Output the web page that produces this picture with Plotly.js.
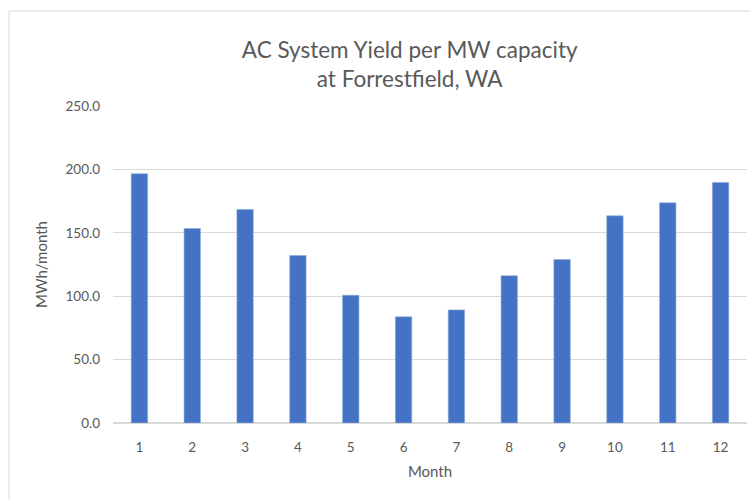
<!DOCTYPE html>
<html>
<head>
<meta charset="utf-8">
<script src="https://cdn.plot.ly/plotly-3.0.1.min.js"></script>
<style>
  html, body { margin: 0; padding: 0; background: #fff; }
  #chart { width: 750px; height: 500px; }
</style>
</head>
<body>
<div id="chart"></div>
<script>
// Monthly AC yield per MW of installed capacity
const months = ["1", "2", "3", "4", "5", "6", "7", "8", "9", "10", "11", "12"];
const yieldMWh = [196.6, 153.4, 168.4, 132.1, 100.8, 83.7, 89.2, 116.1, 128.9, 163.4, 173.7, 189.7];
const yTickVals = [0, 50, 100, 150, 200, 250];
const yTickText = ["0.0", "50.0", "100.0", "150.0", "200.0", "250.0"];

const textGray = "#595959";
const gridGray = "#d9d9d9";
const fontFam = "Lato, 'Open Sans', sans-serif";

const trace = {
  type: "bar",
  x: months,
  y: yieldMWh,
  marker: { color: "#4472C4", line: { color: "#8FAADC", width: 0.6 } },
  hoverinfo: "x+y"
};

const layout = {
  width: 750,
  height: 500,
  margin: { l: 113, r: 3, t: 106, b: 77 },
  paper_bgcolor: "#ffffff",
  plot_bgcolor: "#ffffff",
  bargap: 0.69,
  showlegend: false,
  font: { family: fontFam, color: textGray, size: 13.5 },
  title: {
    text: "AC System Yield per MW capacity<br>at Forrestfield, WA",
    font: { family: fontFam, size: 22.5, color: textGray },
    xref: "paper", x: 0.468, xanchor: "center",
    yref: "container", y: 0.885, yanchor: "middle"
  },
  xaxis: {
    type: "category",
    showgrid: false,
    showline: false,
    ticks: "",
    ticklabelstandoff: 14,
    tickfont: { family: fontFam, size: 13.5, color: textGray },
    title: { text: "Month", font: { family: fontFam, size: 15, color: textGray }, standoff: 12 }
  },
  yaxis: {
    range: [0, 250],
    tickvals: yTickVals,
    ticktext: yTickText,
    showgrid: true,
    gridcolor: gridGray,
    gridwidth: 1,
    zeroline: true,
    zerolinecolor: gridGray,
    zerolinewidth: 1.5,
    showline: false,
    ticks: "",
    ticklabelstandoff: 12,
    tickfont: { family: fontFam, size: 13.5, color: textGray },
    title: { text: "MWh/month", font: { family: fontFam, size: 15, color: textGray }, standoff: 14 }
  },
  shapes: [
    // chart frame: left and top edges
    { type: "line", xref: "paper", yref: "paper", x0: -0.164, x1: -0.164, y0: -0.3, y1: 1.2997,
      line: { color: "#d9d9d9", width: 1 } },
    { type: "line", xref: "paper", yref: "paper", x0: -0.164, x1: 1.2, y0: 1.2997, y1: 1.2997,
      line: { color: "#d9d9d9", width: 1 } }
  ]
};

Plotly.newPlot("chart", [trace], layout, { displayModeBar: false, staticPlot: true });
</script>
</body>
</html>
